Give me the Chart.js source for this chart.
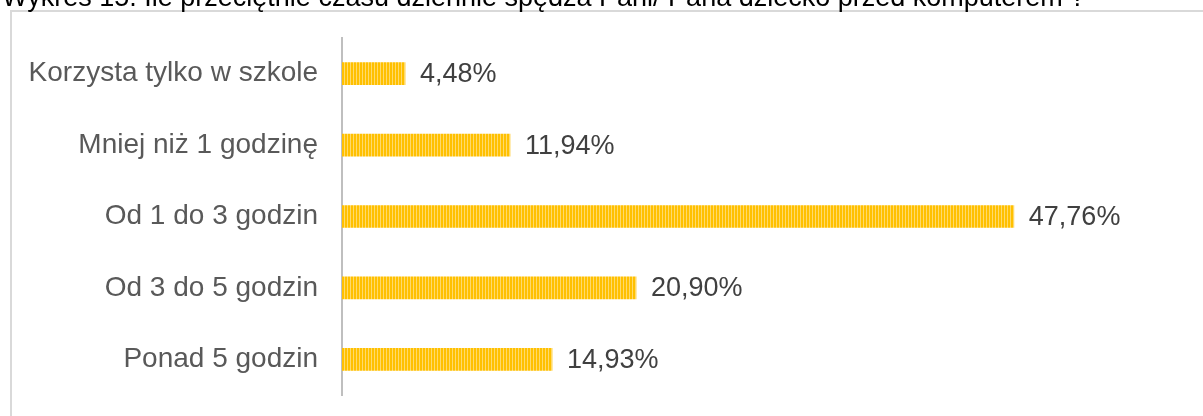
<!DOCTYPE html>
<html>
<head>
<meta charset="utf-8">
<script src="https://cdn.jsdelivr.net/npm/chart.js@4/dist/chart.umd.min.js"></script>
<style>
  html, body { margin: 0; padding: 0; background: #ffffff; }
  #wrap { position: relative; width: 1203px; height: 416px; }
</style>
</head>
<body>
<div id="wrap"><canvas id="c" width="1203" height="416"></canvas></div>
<script>
const titleText = "Wykres 15. Ile przeciętnie czasu dziennie spędza Pani/ Pana dziecko przed komputerem ?";
const categories = ["Korzysta tylko w szkole", "Mniej niż 1 godzinę", "Od 1 do 3 godzin", "Od 3 do 5 godzin", "Ponad 5 godzin"];
const values = [4.48, 11.94, 47.76, 20.90, 14.93];

function makePattern() {
  const p = document.createElement('canvas');
  p.width = 3; p.height = 4;
  const g = p.getContext('2d');
  g.fillStyle = '#FFC000'; g.fillRect(0, 0, 3, 4);
  g.fillStyle = '#FFDA6B'; g.fillRect(2, 0, 1, 4);
  return g.createPattern(p, 'repeat');
}
const ctx0 = document.getElementById('c').getContext('2d');
const stripe = makePattern();

const framePlugin = {
  id: 'frame',
  beforeDraw(chart) {
    const c = chart.ctx;
    c.save();
    c.fillStyle = '#ffffff';
    c.fillRect(0, 0, chart.width, chart.height);
    c.strokeStyle = '#d9d9d9';
    c.lineWidth = 2;
    c.beginPath();
    c.moveTo(11, 420);
    c.lineTo(11, 11);
    c.lineTo(1210, 11);
    c.stroke();
    c.fillStyle = '#000000';
    c.font = '27px "Liberation Sans", Arial, sans-serif';
    c.textBaseline = 'alphabetic';
    c.textAlign = 'left';
    c.fillText(titleText, 2, 6);
    c.restore();
  }
};

const valueLabels = {
  id: 'valueLabels',
  afterDatasetsDraw(chart) {
    const c = chart.ctx;
    const meta = chart.getDatasetMeta(0);
    c.save();
    c.fillStyle = '#404040';
    c.font = '27px "Liberation Sans", Arial, sans-serif';
    c.textBaseline = 'middle';
    c.textAlign = 'left';
    meta.data.forEach((bar, i) => {
      const txt = values[i].toFixed(2).replace('.', ',') + '%';
      c.fillText(txt, bar.x + 15, bar.y + 1);
    });
    c.restore();
  }
};

new Chart(ctx0, {
  type: 'bar',
  data: {
    labels: categories,
    datasets: [{
      data: values,
      backgroundColor: stripe,
      borderWidth: 0,
      barThickness: 22
    }]
  },
  options: {
    indexAxis: 'y',
    responsive: false,
    animation: false,
    devicePixelRatio: 1,
    layout: { padding: { top: 38, bottom: 21, left: 0, right: 17 } },
    plugins: { legend: { display: false }, tooltip: { enabled: false }, title: { display: false } },
    scales: {
      x: { display: false, min: 0, max: 60, afterFit(scale) { scale.height = 0; } },
      y: {
        afterFit(scale) { scale.width = 342; scale.paddingTop = 0; scale.paddingBottom = 0; },
        grid: { display: false, drawTicks: false },
        border: { display: true, color: '#bfbfbf', width: 2 },
        ticks: {
          color: '#595959',
          padding: 24,
          autoSkip: false,
          font: { family: '"Liberation Sans", Arial, sans-serif', size: 28 }
        }
      }
    }
  },
  plugins: [framePlugin, valueLabels]
});
</script>
</body>
</html>
